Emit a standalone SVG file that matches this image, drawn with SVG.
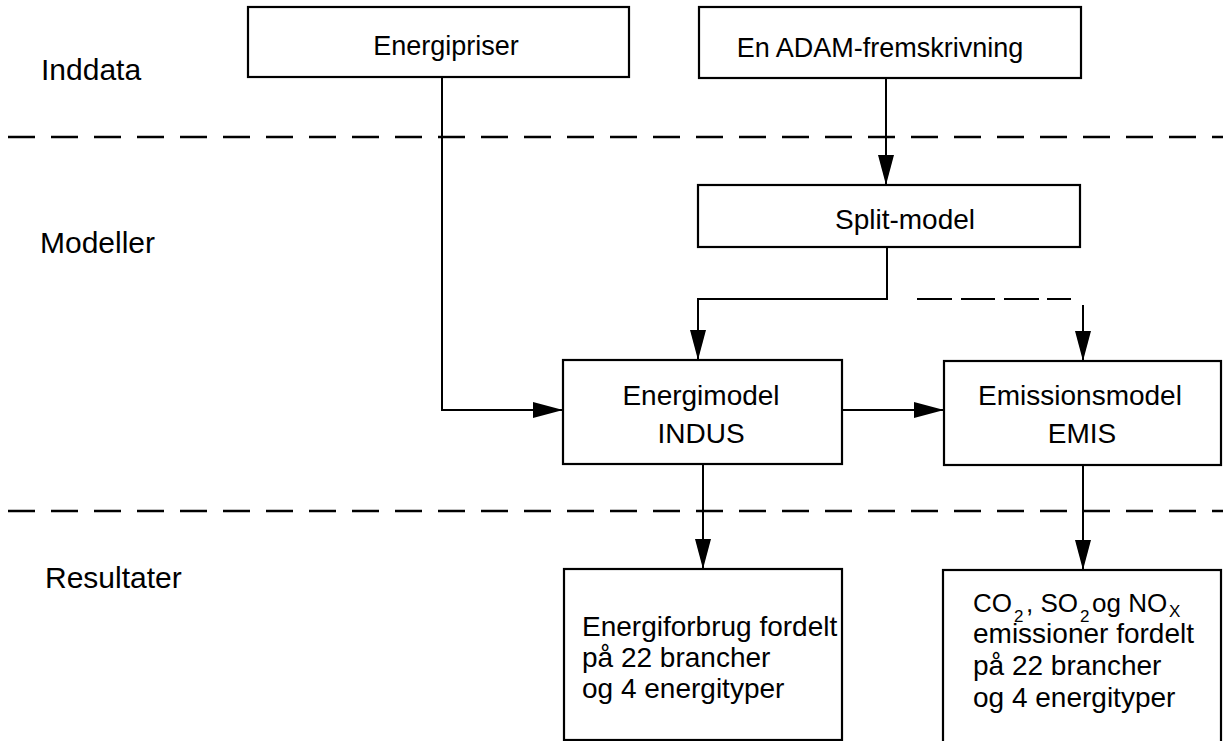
<svg xmlns="http://www.w3.org/2000/svg" width="1223" height="741" viewBox="0 0 1223 741">
<style>
  .box { fill: #fff; stroke: #000; stroke-width: 2.2; }
  .t { font-family: "Liberation Sans", Arial, sans-serif; font-size: 28px; fill: #000; }
  .top { font-size: 27px; }
  .lbl { font-family: "Liberation Sans", Arial, sans-serif; font-size: 30px; fill: #000; }
  .c { text-anchor: middle; }
  .con { fill: none; stroke: #000; stroke-width: 2; }
  .sep { fill: none; stroke: #000; stroke-width: 2.5; stroke-dasharray: 27 16; }
  .chem { font-size: 26px; }
  .sub { font-size: 17px; }
</style>
<defs>
  <marker id="ah" viewBox="0 0 30 16" refX="30" refY="8" markerWidth="30" markerHeight="16" markerUnits="userSpaceOnUse" orient="auto">
    <path d="M0,0 L30,8 L0,16 z" fill="#000"/>
  </marker>
</defs>
<rect width="1223" height="741" fill="#fff"/>

<g id="separators">
  <path class="sep" d="M8 137 H1223"/>
  <path class="sep" d="M8 511 H1223"/>
</g>

<g id="labels">
  <text class="lbl" x="41" y="80">Inddata</text>
  <text class="lbl" x="40" y="253">Modeller</text>
  <text class="lbl" x="45" y="588">Resultater</text>
</g>

<g id="connectors">
  <path class="con" d="M442 77 V410 H563" marker-end="url(#ah)"/>
  <path class="con" d="M886 78 V185" marker-end="url(#ah)"/>
  <path class="con" d="M887 247 V299 H698 V360" marker-end="url(#ah)"/>
  <path class="con" d="M917 299 H952 M961 299 H995 M1004 299 H1039 M1047 299 H1071"/>
  <path class="con" d="M1083 305 V361" marker-end="url(#ah)"/>
  <path class="con" d="M842 410 H944" marker-end="url(#ah)"/>
  <path class="con" d="M703 464 V569" marker-end="url(#ah)"/>
  <path class="con" d="M1083 465 V570" marker-end="url(#ah)"/>
</g>

<g id="energipriser">
  <rect class="box" x="248" y="7" width="381" height="70"/>
  <text class="t top c" x="446" y="55">Energipriser</text>
</g>

<g id="adam">
  <rect class="box" x="699" y="7" width="382" height="71"/>
  <text class="t top c" x="880" y="57">En ADAM-fremskrivning</text>
</g>

<g id="split">
  <rect class="box" x="698" y="185" width="382" height="62"/>
  <text class="t c" x="905" y="229">Split-model</text>
</g>

<g id="energimodel">
  <rect class="box" x="563" y="360" width="279" height="104"/>
  <text class="t c" x="701" y="405">Energimodel</text>
  <text class="t c" x="701" y="443">INDUS</text>
</g>

<g id="emissionsmodel">
  <rect class="box" x="944" y="361" width="277" height="104"/>
  <text class="t c" x="1080" y="405">Emissionsmodel</text>
  <text class="t c" x="1082" y="443">EMIS</text>
</g>

<g id="result-energi">
  <rect class="box" x="564" y="569" width="278" height="171"/>
  <text class="t" x="582" y="636">Energiforbrug fordelt</text>
  <text class="t" x="582" y="667">på 22 brancher</text>
  <text class="t" x="582" y="698">og 4 energityper</text>
</g>

<g id="result-emis">
  <rect class="box" x="943" y="570" width="278" height="180"/>
  <text class="t chem" y="612"><tspan x="973">CO</tspan><tspan class="sub" x="1014" y="622">2</tspan><tspan x="1026" y="612">, SO</tspan><tspan class="sub" x="1080" y="622">2</tspan><tspan x="1092" y="612">og NO</tspan><tspan class="sub" x="1169" y="617">X</tspan></text>
  <text class="t" x="973" y="643">emissioner fordelt</text>
  <text class="t" x="973" y="675">på 22 brancher</text>
  <text class="t" x="973" y="707">og 4 energityper</text>
</g>
</svg>
